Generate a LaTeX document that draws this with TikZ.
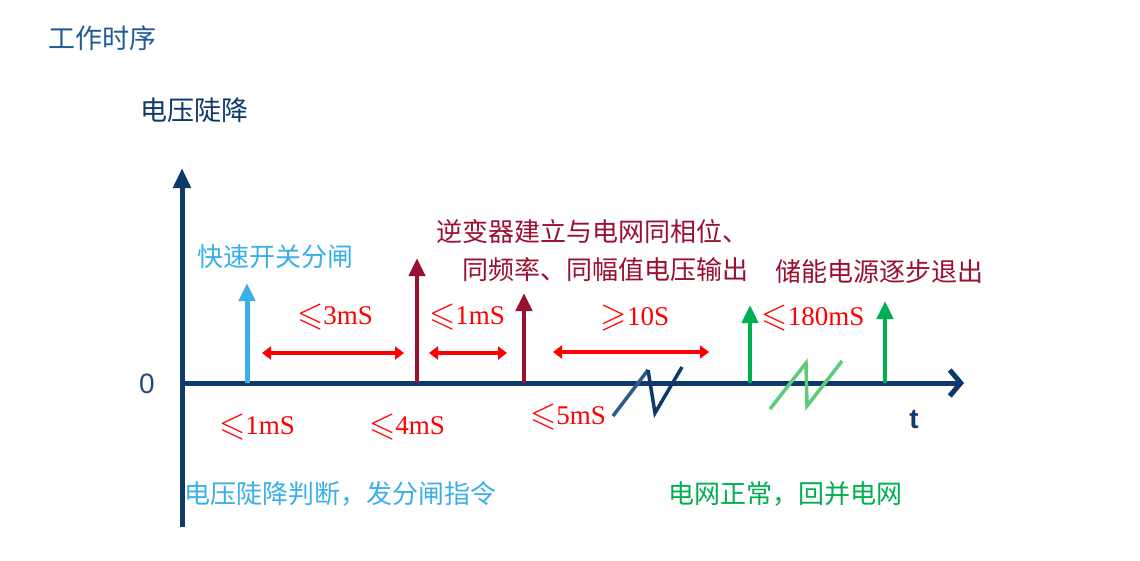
\documentclass[tikz,border=0pt]{standalone}
\usepackage{fontspec}
\usepackage{amssymb}
\setmainfont{Liberation Serif}
\newfontfamily\cjk{Noto Sans CJK SC}
\newfontfamily\numfont{Liberation Serif}
\newfontfamily\axfont{Liberation Sans}
\usetikzlibrary{arrows.meta}
\definecolor{navy}{HTML}{0E3A6B}
\definecolor{titleblue}{HTML}{1F5C99}
\definecolor{lblue}{HTML}{3AB0E8}
\definecolor{dred}{HTML}{9B1030}
\definecolor{bred}{HTML}{FF0000}
\definecolor{gr}{HTML}{00B050}
\definecolor{lgr}{HTML}{5DCB7A}
\definecolor{zblue}{HTML}{2D5B8C}
\newcommand{\myle}{\raisebox{-0.5pt}{\scalebox{1.25}{$\leqslant$}}}
\newcommand{\myge}{\raisebox{-0.5pt}{\scalebox{1.25}{$\geqslant$}}}
\tikzset{
  cjktext/.style={font=\cjk\fontsize{26}{30}\selectfont, inner sep=0pt},
  valtext/.style={font=\numfont\fontsize{27}{30}\selectfont, text=bred, inner sep=0pt},
  pulse/.style={line width=4.5pt, -{Triangle[length=18pt,width=16pt]}},
  span/.style={line width=4.5pt, bred, {Triangle[length=9pt,width=13pt]}-{Triangle[length=9pt,width=13pt]}},
  brk/.style={line width=3.5pt}
}
\begin{document}
\begin{tikzpicture}[x=1pt,y=-1pt]
\useasboundingbox[fill=white] (0,0) rectangle (1140,560);
% titles
\node[cjktext, anchor=west, text=titleblue, font=\cjk\fontsize{27}{30}\selectfont] (title) at (48,38) {工作时序};
\node[cjktext, anchor=west, text=navy, font=\cjk\fontsize{27}{30}\selectfont] (ylab) at (140,110) {电压陡降};
% axes
\coordinate (o) at (182,383);
\coordinate (ybot) at (182,527);
\coordinate (ytop) at (182,168);
\coordinate (xend) at (964,383);
\draw[navy, line width=5pt, -{Triangle[length=20pt,width=17pt]}] (ybot) -- (ytop);
\draw[navy, line width=5pt, -{Straight Barb[length=11pt,width=26pt]}] (o) -- (xend);
\node[font=\axfont\fontsize{28}{30}\selectfont, text=navy!75!gray, inner sep=0pt] (zero) at (147,384) {0};
\node[font=\axfont\bfseries\fontsize{28}{30}\selectfont, text=navy, inner sep=0pt] (tlab) at (914,419) {t};
% pulses
\coordinate (p1b) at (247,383); \coordinate (p1t) at (247,283);
\coordinate (p2b) at (417,383); \coordinate (p2t) at (417,258);
\coordinate (p3b) at (524,383); \coordinate (p3t) at (524,293);
\coordinate (p4b) at (750,383); \coordinate (p4t) at (750,305);
\coordinate (p5b) at (885,383); \coordinate (p5t) at (885,301);
\draw[pulse, lblue, line width=5pt] (p1b) -- (p1t);
\draw[pulse, dred] (p2b) -- (p2t);
\draw[pulse, dred] (p3b) -- (p3t);
\draw[pulse, gr] (p4b) -- (p4t);
\draw[pulse, gr] (p5b) -- (p5t);
% spans
\coordinate (s1a) at (262,353); \coordinate (s1b) at (404,353);
\coordinate (s2a) at (429,353); \coordinate (s2b) at (507,353);
\coordinate (s3a) at (553,352); \coordinate (s3b) at (709,352);
\draw[span] (s1a) -- (s1b);
\draw[span] (s2a) -- (s2b);
\draw[span] (s3a) -- (s3b);
\node[valtext] (v1) at (335,317) {\myle3mS};
\node[valtext] (v2) at (467,317) {\myle1mS};
\node[valtext] (v3) at (635,318) {\myge10S};
\node[valtext] (v4) at (813,318) {\myle180mS};
\node[valtext] (b1) at (257,427) {\myle1mS};
\node[valtext] (b2) at (407,427) {\myle4mS};
\node[valtext] (b3) at (568,417) {\myle5mS};
% breaks
\coordinate (z1) at (613,416); \coordinate (z2) at (648,370);
\coordinate (z3) at (655,413); \coordinate (z4) at (682,367);
\draw[brk, zblue] (z1) -- (z2);
\draw[brk, navy] (z2) -- (z3) -- (z4);
\coordinate (g1) at (770,409); \coordinate (g2) at (806,363);
\coordinate (g3) at (807,406); \coordinate (g4) at (842,361);
\draw[brk, lgr] (g1) -- (g2) -- (g3) -- (g4);
% labels
\node[cjktext, anchor=west, text=lblue] (l1) at (197,257) {快速开关分闸};
\node[cjktext, anchor=east, text=dred] (l2a) at (749,232) {逆变器建立与电网同相位、};
\node[cjktext, anchor=east, text=dred] (l2b) at (749,270) {同频率、同幅值电压输出};
\node[cjktext, anchor=west, text=dred] (l3) at (775,272) {储能电源逐步退出};
\node[cjktext, anchor=west, text=lblue] (l4) at (184,494) {电压陡降判断，发分闸指令};
\node[cjktext, anchor=west, text=gr] (l5) at (668,494) {电网正常，回并电网};
\end{tikzpicture}
\end{document}
